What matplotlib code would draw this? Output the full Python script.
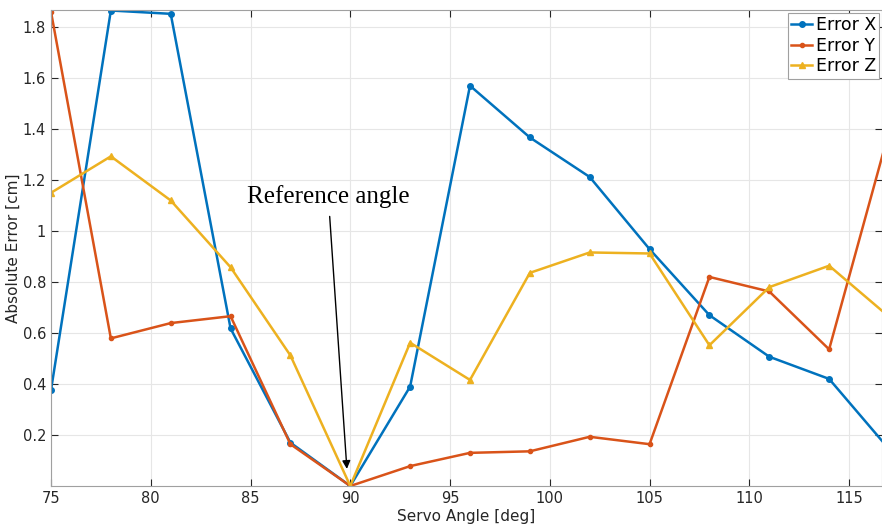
import numpy as np
import matplotlib.pyplot as plt

angles = [75, 78, 81, 84, 87, 90, 93, 96, 99, 102, 105, 108, 111, 114, 117]
error_x = [0.376, 1.865, 1.852, 0.618, 0.170, 0.0, 0.390, 1.570, 1.367, 1.212, 0.929,
           0.670, 0.507, 0.420, 0.145]
error_y = [1.860, 0.579, 0.639, 0.666, 0.164, 0.0, 0.078, 0.130, 0.136, 0.193, 0.164,
           0.820, 0.763, 0.536, 1.39]
error_z = [1.150, 1.293, 1.120, 0.858, 0.512, 0.0, 0.562, 0.416, 0.836, 0.916, 0.912,
           0.552, 0.780, 0.864, 0.664]

fig = plt.figure(figsize=(8.82, 5.25), dpi=100)
ax = fig.add_axes([51 / 882, 1 - 486 / 525, 831 / 882, 476 / 525])

ax.plot(angles, error_x, color='#0072BD', marker='o', markersize=4, lw=1.8,
        label='Error X')
ax.plot(angles, error_y, color='#D95319', marker='.', markersize=6, lw=1.8,
        label='Error Y')
ax.plot(angles, error_z, color='#EDB120', marker='^', markersize=4, lw=1.8,
        label='Error Z')

ax.set_xlim(75, 116.65)
ax.set_ylim(0, 1.867)
ax.set_xticks(np.arange(75, 116, 5))
ax.set_yticks([0.2, 0.4, 0.6, 0.8, 1.0, 1.2, 1.4, 1.6, 1.8])
ax.set_yticklabels(['0.2', '0.4', '0.6', '0.8', '1', '1.2', '1.4', '1.6', '1.8'])
ax.grid(True, color='#e6e6e6', lw=0.8)
ax.set_axisbelow(True)
ax.tick_params(direction='in', colors='#262626', labelsize=10.5, length=5,
               top=True, right=True)
for s in ax.spines.values():
    s.set_color('#a0a0a0')

ax.set_xlabel('Servo Angle [deg]', fontsize=11, color='#262626', labelpad=2)
ax.set_ylabel('Absolute Error [cm]', fontsize=11, color='#262626', labelpad=1)

ax.annotate('Reference angle', xy=(89.83, 0.067), xytext=(88.9, 1.09),
            ha='center', va='bottom', fontsize=18, family='Liberation Serif',
            arrowprops=dict(arrowstyle='-|>', color='black', lw=1,
                            mutation_scale=12, shrinkA=4, shrinkB=0))

leg = ax.legend(loc='upper right', fontsize=12.5, handlelength=1.2,
                handletextpad=0.2, borderpad=0.2, labelspacing=0.15,
                fancybox=False, framealpha=1, borderaxespad=0.15)
leg.get_frame().set_edgecolor('#a0a0a0')
leg.get_frame().set_linewidth(0.8)

fig.savefig('out.png', dpi=100)
